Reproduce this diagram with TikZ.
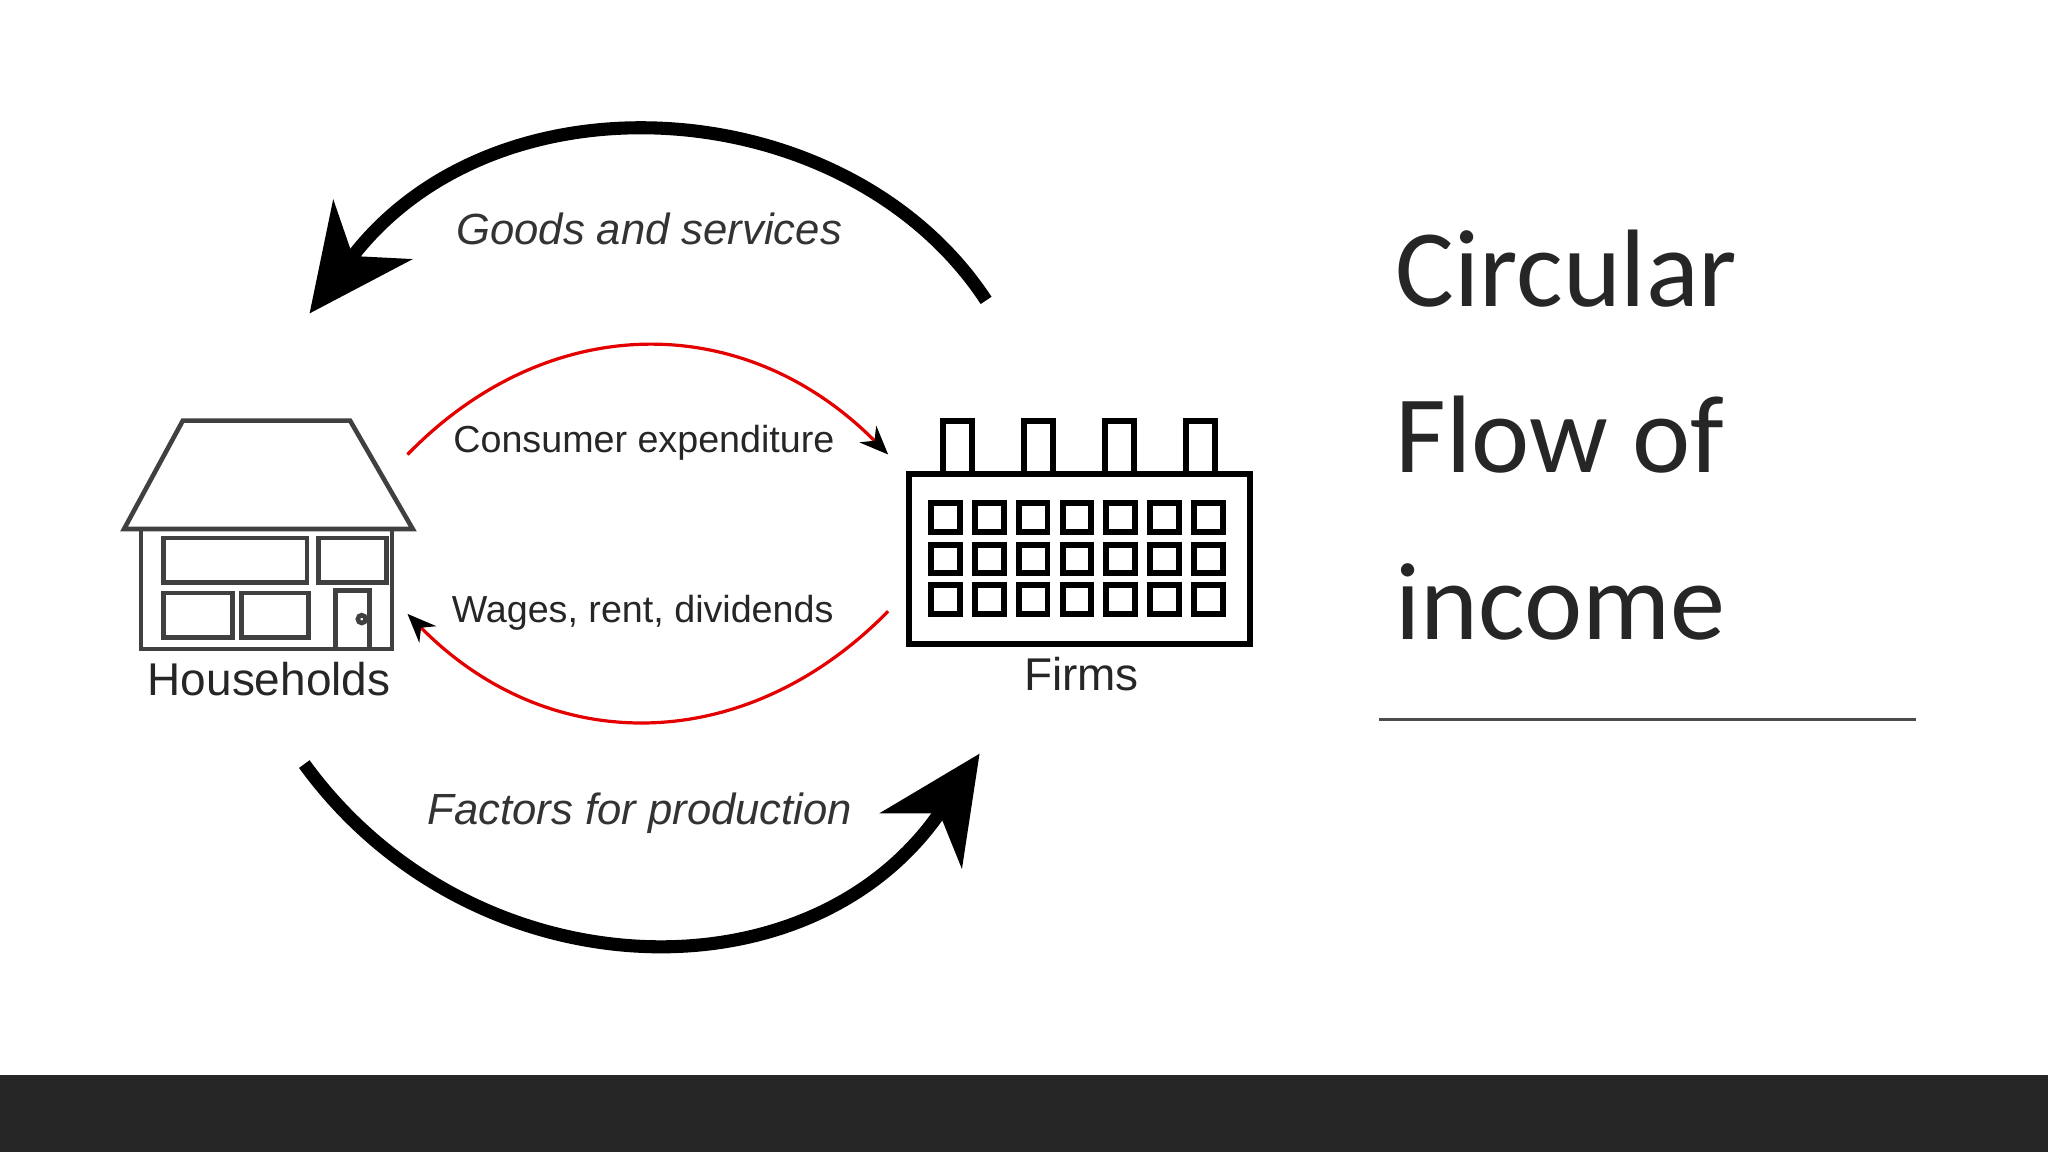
\documentclass[tikz,border=0pt]{standalone}
\usepackage{fontspec}
\setmainfont{Liberation Sans}
\newfontfamily\titlefont{Carlito}
\usetikzlibrary{arrows.meta}
\begin{document}
\begin{tikzpicture}[x=0.01cm,y=-0.01cm,
  lbl/.style={font=\fontsize{8.2}{10}\selectfont, text=black!85},
  ilbl/.style={font=\fontsize{9.5}{11}\selectfont\itshape, text=black!80},
  big/.style={line width=0.1cm, -{Stealth[length=0.8cm,width=0.75cm,inset=0.25cm]}},
  redarc/.style={red!90!black, line width=0.7pt, -{Stealth[black,length=0.22cm,width=0.18cm]}},
  hl/.style={black!75, line width=1pt},
  win/.style={draw, line width=1.3pt},
  ttl/.style={anchor=base west, font=\titlefont\fontsize{24}{26}\selectfont, text=black!85}]
\useasboundingbox (0,0) rectangle (1568,882);
\fill[white] (0,0) rectangle (1568,882);
\fill[black!85] (0,823) rectangle (1568,882);
% title
\node[ttl] (t1) at (1056,235) {Circular};
\node[ttl] (t2) at (1056,362) {Flow of};
\node[ttl] (t3) at (1056,490) {income};
\draw[black!70, line width=0.6pt] (1056,551) coordinate (ra) -- (1467,551) coordinate (rb);
% house
\draw[hl] (95,405) -- (140,322) -- (268,322) -- (316,405) -- cycle;
\draw[hl] (108,405) rectangle (300,497);
\draw[hl] (125,412) rectangle (235,446);
\draw[hl] (244,412) rectangle (296,446);
\draw[hl] (125,454) rectangle (178,488);
\draw[hl] (185,454) rectangle (236,488);
\draw[hl] (257,452) rectangle (283,497);
\draw[hl] (277,474) circle (3);
\node[lbl, font=\fontsize{10}{12}\selectfont] (hh) at (206,520) {Households};
% factory
\draw[line width=1.3pt] (696,363) rectangle (957,493);
\foreach \x in {722,784,846,908}{\draw[line width=1.3pt] (\x,363) -- (\x,322) -- (\x+22,322) -- (\x+22,363);}
\foreach \c in {0,...,6}{\foreach \y in {385,417,448}{
  \draw[win] (713+\c*33.5,\y) rectangle (735+\c*33.5,\y+22);}}
\node[lbl, font=\fontsize{10}{12}\selectfont] (ff) at (828,516) {Firms};
% coordinates
\coordinate (g0) at (755,230); \coordinate (g1) at (237,240);
\coordinate (f0) at (233,585); \coordinate (f1) at (750,577);
\coordinate (c0) at (312,348); \coordinate (c1) at (680,348);
\coordinate (w0) at (680,468); \coordinate (w1) at (312,470);
\draw[big] (g0) .. controls (650,70) and (380,50) .. (g1);
\draw[big] (f0) .. controls (360,760) and (620,770) .. (f1);
\draw[redarc] (c0) .. controls (420,237) and (570,237) .. (c1);
\draw[redarc] (w0) .. controls (570,580) and (420,580) .. (w1);
\node[ilbl] (gs) at (497,175) {Goods and services};
\node[lbl] (ce) at (493,339) {Consumer expenditure};
\node[lbl] (wr) at (492,469) {Wages, rent, dividends};
\node[ilbl] (fp) at (490,623) {Factors for production};
\end{tikzpicture}
\end{document}
